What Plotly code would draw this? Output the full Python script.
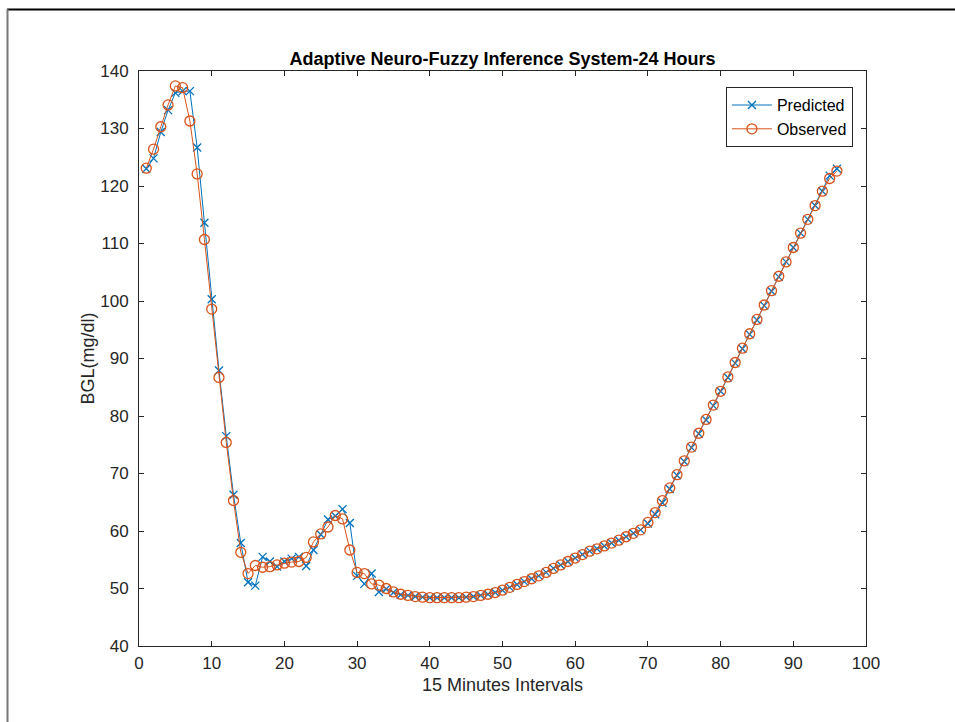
import plotly.graph_objects as go

# 15-minute interval index over 24 hours
intervals = list(range(1, 97))

observed = [
    123.1, 126.4, 130.3, 134.1, 137.4, 137.1, 131.3, 122.1, 110.7, 98.6,
    86.7, 75.4, 65.3, 56.3, 52.6, 54.0, 53.7, 53.8, 54.1, 54.4,
    54.6, 54.7, 55.4, 58.1, 59.5, 60.7, 62.7, 62.1, 56.7, 52.8,
    52.6, 50.8, 50.6, 50.0, 49.4, 49.0, 48.8, 48.6, 48.5, 48.4,
    48.4, 48.4, 48.4, 48.4, 48.5, 48.6, 48.8, 49.0, 49.3, 49.7,
    50.2, 50.7, 51.2, 51.7, 52.2, 52.8, 53.5, 54.1, 54.7, 55.3,
    55.9, 56.5, 56.9, 57.4, 57.9, 58.4, 59.0, 59.6, 60.2, 61.5,
    63.2, 65.3, 67.5, 69.8, 72.2, 74.6, 77.0, 79.4, 81.9, 84.3,
    86.8, 89.3, 91.8, 94.3, 96.8, 99.3, 101.8, 104.3, 106.8, 109.3,
    111.8, 114.2, 116.6, 119.1, 121.3, 122.6,
]

predicted = [
    123.0, 124.8, 129.4, 133.2, 136.2, 136.5, 136.5, 126.7, 113.6, 100.3,
    87.9, 76.5, 66.3, 57.9, 51.1, 50.5, 55.5, 54.7, 53.8, 54.7,
    55.2, 55.5, 53.9, 56.7, 59.4, 62.0, 62.6, 63.8, 61.4, 52.2,
    50.8, 52.6, 49.4, 49.9, 49.3, 48.9, 48.8, 48.6, 48.5, 48.4,
    48.4, 48.4, 48.4, 48.4, 48.5, 48.6, 48.8, 49.0, 49.3, 49.7,
    50.2, 50.7, 51.2, 51.7, 52.2, 52.8, 53.5, 54.1, 54.7, 55.3,
    55.9, 56.5, 56.9, 57.4, 57.9, 58.4, 59.0, 59.6, 60.2, 61.3,
    62.9, 64.9, 67.3, 69.7, 72.1, 74.5, 76.9, 79.3, 81.8, 84.3,
    86.7, 89.2, 91.7, 94.2, 96.7, 99.2, 101.7, 104.2, 106.8, 109.3,
    111.8, 114.2, 116.6, 119.1, 121.8, 123.0,
]

x_ticks = [0, 10, 20, 30, 40, 50, 60, 70, 80, 90, 100]
y_ticks = [40, 50, 60, 70, 80, 90, 100, 110, 120, 130, 140]

BLUE = "#0072BD"
ORANGE = "#D95319"
AXIS = "#262626"
FONT = "Liberation Sans, Arial, sans-serif"

fig = go.Figure()
fig.add_trace(go.Scatter(
    x=intervals, y=predicted, name="Predicted", mode="lines+markers",
    line=dict(color=BLUE, width=1),
    marker=dict(symbol="x-thin", size=8, color=BLUE, line=dict(color=BLUE, width=1.3)),
))
fig.add_trace(go.Scatter(
    x=intervals, y=observed, name="Observed", mode="lines+markers",
    line=dict(color=ORANGE, width=1),
    marker=dict(symbol="circle-open", size=10, color=ORANGE, line=dict(color=ORANGE, width=1.3)),
))

axis_common = dict(
    showgrid=False, zeroline=False, showline=True, linecolor=AXIS, linewidth=1,
    mirror="ticks", ticks="inside", ticklen=5, tickcolor=AXIS, tickwidth=1,
    tickfont=dict(family=FONT, size=17, color=AXIS),
)

fig.update_layout(
    width=955, height=722,
    margin=dict(l=139, r=89, t=71, b=76),
    paper_bgcolor="white", plot_bgcolor="white",
    font=dict(family=FONT, color=AXIS),
    title=dict(
        text="<b>Adaptive Neuro-Fuzzy Inference System-24 Hours</b>",
        x=0.5, xref="paper", xanchor="center",
        y=1 - 59 / 722, yanchor="middle",
        font=dict(family=FONT, size=18, color="black"),
    ),
    xaxis=dict(
        range=[0, 100], tickvals=x_ticks, ticklabelstandoff=2,
        title=dict(text="15 Minutes Intervals", font=dict(family=FONT, size=18, color=AXIS), standoff=5),
        **axis_common,
    ),
    yaxis=dict(
        range=[40, 140], tickvals=y_ticks, ticklabelstandoff=6,
        title=dict(text="BGL(mg/dl)", font=dict(family=FONT, size=18, color=AXIS), standoff=0),
        **axis_common,
    ),
    legend=dict(
        x=0.982, y=0.972, xanchor="right", yanchor="top",
        bgcolor="white", bordercolor=AXIS, borderwidth=1,
        font=dict(family=FONT, size=16, color="black"),
        itemwidth=40, tracegroupgap=0,
    ),
    showlegend=True,
)

# Frame edges around the figure window
fig.add_shape(type="line", xref="paper", yref="paper",
              x0=(7 - 139) / 727, x1=(955 - 139) / 727,
              y0=(646 - 9.5) / 575, y1=(646 - 9.5) / 575,
              line=dict(color="black", width=2))
fig.add_shape(type="line", xref="paper", yref="paper",
              x0=(7.5 - 139) / 727, x1=(7.5 - 139) / 727,
              y0=(646 - 9) / 575, y1=(646 - 725) / 575,
              line=dict(color="#777777", width=2))

fig.write_html("out.html")
